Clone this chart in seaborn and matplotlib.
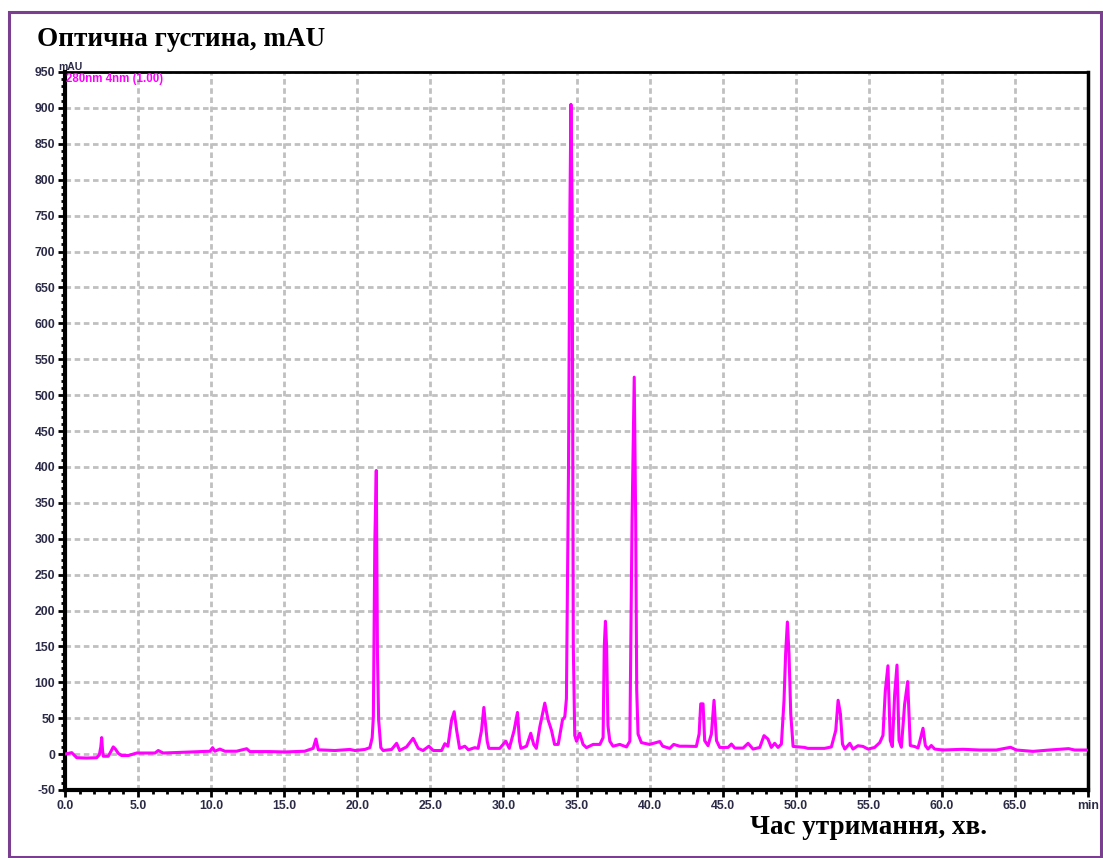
import pandas as pd
import matplotlib
import matplotlib.pyplot as plt
import matplotlib.ticker as mticker
import matplotlib.patches as mpatches
import seaborn as sns

# ---------------------------------------------------------------------------
# Дані хроматограми (час утримання, хв — оптична густина, mAU)
# ---------------------------------------------------------------------------
time_min = [
    0.0, 0.46, 0.8, 1.48, 2.17, 2.35, 2.45, 2.51, 2.57, 2.62, 2.96, 3.15, 3.3,
    3.45, 3.65, 3.87, 4.33, 4.9, 6.16, 6.38, 6.72, 8.55, 9.92, 10.1, 10.25,
    10.6, 10.94, 11.74, 12.43, 12.65, 14.0, 15.05, 16.4, 16.98, 17.17, 17.33,
    18.47, 19.5, 19.84, 20.52, 20.86, 21.02, 21.1, 21.2, 21.3, 21.38, 21.46,
    21.61, 21.77, 22.35, 22.69, 22.9, 23.37, 23.82, 24.17, 24.5, 24.9, 25.2,
    25.77, 25.99, 26.2, 26.45, 26.63, 26.8, 27.0, 27.36, 27.6, 28.04, 28.27,
    28.5, 28.66, 28.89, 29.0, 29.75, 30.16, 30.4, 30.73, 30.96, 31.1, 31.2,
    31.58, 31.87, 32.07, 32.25, 32.49, 32.83, 33.06, 33.29, 33.5, 33.75, 34.04,
    34.2, 34.31, 34.45, 34.55, 34.62, 34.7, 34.78, 34.88, 35.0, 35.22, 35.45,
    35.68, 36.14, 36.6, 36.82, 36.9, 36.98, 37.06, 37.15, 37.28, 37.5, 37.96,
    38.42, 38.65, 38.8, 38.95, 39.05, 39.12, 39.21, 39.44, 40.0, 40.7, 40.9,
    41.38, 41.65, 42.06, 42.5, 43.2, 43.39, 43.5, 43.66, 43.77, 44.0, 44.23,
    44.41, 44.58, 44.8, 45.37, 45.6, 45.83, 46.4, 46.74, 47.08, 47.54, 47.83,
    48.1, 48.33, 48.56, 48.79, 49.02, 49.2, 49.31, 49.43, 49.54, 49.66, 49.82,
    50.6, 50.83, 51.98, 52.44, 52.74, 52.9, 53.06, 53.2, 53.36, 53.7, 53.92,
    54.26, 54.6, 54.95, 55.4, 55.75, 55.97, 56.13, 56.31, 56.47, 56.61, 56.77,
    56.93, 57.07, 57.23, 57.45, 57.66, 57.84, 58.14, 58.37, 58.53, 58.71,
    58.87, 59.05, 59.28, 59.51, 60.08, 61.44, 62.58, 63.73, 64.7, 65.1, 66.23,
    67.37, 68.67, 69.09, 69.9,
]
absorbance = [
    0, 2, -5, -5.5, -5, -1, 10, 23, 5, -3, -3, 4, 10,
    7, 1, -2, -2, 1.5, 1.5, 5, 1.5, 3, 4, 9, 4,
    7, 4, 4, 7.5, 3.5, 3.5, 3, 4, 8, 21, 6,
    5, 6.5, 5, 6.5, 9, 23, 52, 295, 395, 140, 48,
    9, 5, 6.5, 15, 5, 10, 22, 8, 5, 11, 5,
    5, 14.5, 11, 47, 59, 33, 8, 11, 6, 9, 8,
    33, 65, 18, 8, 8, 18, 8, 33, 58, 18, 8,
    11, 29, 13.5, 8, 38, 71, 47.5, 33, 13.5, 13.5, 47.5,
    52, 77, 390, 760, 905, 760, 150, 26, 18, 29, 13.5,
    9, 13.5, 13.5, 23, 150, 185, 150, 40, 18, 11, 13.5,
    10, 18, 325, 525, 325, 90, 28, 16, 13.5, 17.5, 11,
    8, 13.5, 11, 11, 10.7, 28, 70, 70, 18.7, 11.7, 28,
    75, 18.7, 9.3, 9.3, 14, 8.4, 8.4, 15, 7, 9.3, 25.7,
    21, 9.3, 15, 9.3, 14, 75, 140, 184, 140, 56, 10.7,
    9.3, 8, 8, 10, 33, 75, 56, 14, 7, 15, 7,
    11.7, 10.7, 7, 9.3, 16, 26, 88, 123, 19, 10.5, 83,
    124, 19, 9.5, 69, 101, 12, 10.5, 8.6, 21, 36,
    12, 7, 12, 7, 5.7, 6.7, 5.7, 5.7, 9.5, 5.7, 3.8,
    5.7, 7.6, 5.7, 5.7,
]

x_ticks = [0, 5, 10, 15, 20, 25, 30, 35, 40, 45, 50, 55, 60, 65, 70]
x_labels = ["0.0", "5.0", "10.0", "15.0", "20.0", "25.0", "30.0", "35.0",
            "40.0", "45.0", "50.0", "55.0", "60.0", "65.0", "min"]
y_ticks = list(range(-50, 951, 50))

df = pd.DataFrame({"t": time_min, "mau": absorbance})

# ---------------------------------------------------------------------------
# Фігура
# ---------------------------------------------------------------------------
sns.set_style("ticks")
plt.rcParams["font.family"] = ["Liberation Sans", "DejaVu Sans"]
plt.rcParams["axes.unicode_minus"] = False

W, H = 1103, 858
fig = plt.figure(figsize=(W / 100, H / 100), dpi=100)
ax = fig.add_axes([65 / W, 1 - 790 / H, (1088 - 65) / W, (790 - 72) / H])

# рамка навколо всього рисунка
fig.patches.append(mpatches.Rectangle(
    (9 / W, 1 - 857 / H), (1101 - 9) / W, (857 - 12) / H,
    transform=fig.transFigure, fill=False, edgecolor="#7B3F8F", linewidth=2.2))

sns.lineplot(data=df, x="t", y="mau", color="#FF00FF", linewidth=2.2,
             estimator=None, sort=False, ax=ax, zorder=3)

ax.set_xlim(0, 70)
ax.set_ylim(-50, 950)
ax.set_xticks(x_ticks)
ax.set_xticklabels(x_labels)
ax.set_yticks(y_ticks)
ax.xaxis.set_minor_locator(mticker.MultipleLocator(1))
ax.yaxis.set_minor_locator(mticker.MultipleLocator(10))

tick_color = "#2b2b48"
ax.tick_params(axis="both", which="major", direction="out", length=5,
               width=2, color="black", labelsize=8.8, labelcolor=tick_color, pad=2)
ax.tick_params(axis="both", which="minor", direction="out", length=3,
               width=2, color="black")
for lab in ax.get_xticklabels() + ax.get_yticklabels():
    lab.set_fontweight("bold")

ax.grid(which="major", color="#C0C0C0", linestyle=(0, (2, 1.3)), linewidth=2,
        zorder=0)
ax.set_xlabel("")
ax.set_ylabel("")

ax.spines["left"].set_linewidth(3)
ax.spines["bottom"].set_linewidth(3)
ax.spines["top"].set_linewidth(2)
ax.spines["right"].set_linewidth(2.5)
ax.spines["right"].set_linestyle((0, (1, 1)))
for s in ax.spines.values():
    s.set_color("black")

# підписи у стилі програми хроматографа
fig.text(58 / W, 1 - 67 / H, "mAU", fontsize=7.5, fontweight="bold",
         color=tick_color, va="center", ha="left")
fig.text(66 / W, 1 - 79 / H, "280nm 4nm (1.00)", fontsize=8.3,
         fontweight="bold", color="#FF00FF", va="center", ha="left")

fig.text(37 / W, 1 - 39 / H, "Оптична густина, mAU",
         family=["Liberation Serif", "DejaVu Serif"], fontsize=19.5,
         fontweight="bold", color="black", va="center", ha="left")
fig.text(869 / W, 1 - 828 / H, "Час утримання, хв.",
         family=["Liberation Serif", "DejaVu Serif"], fontsize=19.5,
         fontweight="bold", color="black", va="center", ha="center")

fig.savefig("out.png", dpi=100)
